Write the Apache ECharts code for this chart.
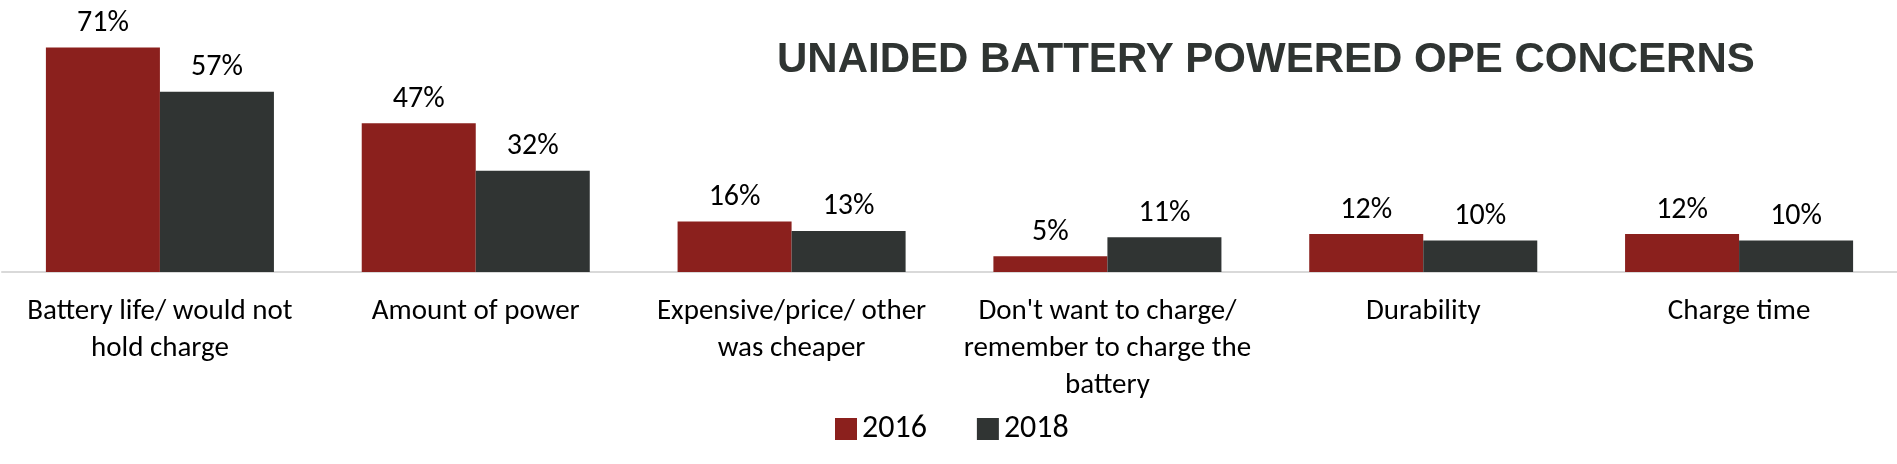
<!DOCTYPE html>
<html>
<head>
<meta charset="utf-8">
<script src="https://cdn.jsdelivr.net/npm/echarts@6/dist/echarts.min.js"></script>
<style>
html,body{margin:0;padding:0;background:#fff;}
#chart{width:1897px;height:464px;}
</style>
</head>
<body>
<div id="chart"></div>
<script>
var titleText = 'UNAIDED BATTERY POWERED OPE CONCERNS';
var categories = [
  'Battery life/ would not\nhold charge',
  'Amount of power',
  'Expensive/price/ other\nwas cheaper',
  "Don't want to charge/\nremember to charge the\nbattery",
  'Durability',
  'Charge time'
];
var seriesNames = ['2016', '2018'];
var values2016 = [71, 47, 16, 5, 12, 12];
var values2018 = [57, 32, 13, 11, 10, 10];

var FONT = 'Carlito, Lato, "Noto Sans", sans-serif';
var chart = echarts.init(document.getElementById('chart'));
var labelStyle = {
  show: true,
  position: 'top',
  distance: 9,
  formatter: '{c}%',
  fontFamily: FONT,
  fontSize: 30,
  color: '#000'
};
chart.setOption({
  animation: false,
  title: {
    text: titleText,
    left: 777,
    top: 39,
    padding: 0,
    textStyle: {
      fontFamily: '"Liberation Sans", Arial, sans-serif',
      fontWeight: 'bold',
      fontSize: 42,
      color: '#2F3432'
    }
  },
  legend: {
    data: seriesNames,
    left: 835,
    top: 413,
    icon: 'rect',
    itemWidth: 22,
    itemHeight: 22,
    itemGap: 50,
    padding: 0,
    textStyle: { fontFamily: FONT, fontSize: 32, color: '#000' }
  },
  grid: { left: 2, right: 0, top: 19, bottom: 192, containLabel: false },
  xAxis: {
    type: 'category',
    data: categories,
    axisLine: { show: true, lineStyle: { color: '#D9D9D9', width: 2 } },
    axisTick: { show: false },
    axisLabel: {
      interval: 0,
      margin: 21,
      fontFamily: FONT,
      fontSize: 29,
      lineHeight: 37,
      color: '#000'
    }
  },
  yAxis: {
    type: 'value',
    min: 0,
    max: 80,
    show: false,
    splitLine: { show: false }
  },
  series: [
    {
      name: seriesNames[0],
      type: 'bar',
      data: values2016,
      barGap: '0%',
      barCategoryGap: '27.8%',
      itemStyle: { color: '#8B201D' },
      label: labelStyle
    },
    {
      name: seriesNames[1],
      type: 'bar',
      data: values2018,
      itemStyle: { color: '#303433' },
      label: labelStyle
    }
  ]
});
</script>
</body>
</html>
